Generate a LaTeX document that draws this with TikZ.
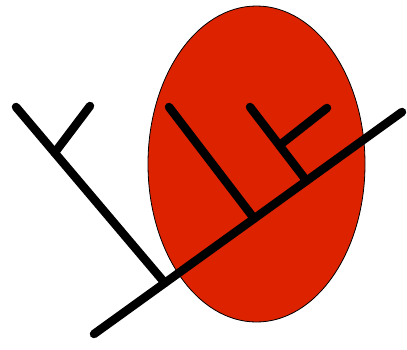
\documentclass[tikz,border=0pt]{standalone}
\usepackage{tikz}
\usetikzlibrary{calc}
\definecolor{eggred}{HTML}{DD2200}

\begin{document}
\begin{tikzpicture}[x=1pt,y=-1pt,
  branch/.style={line width=8.5pt,line cap=round,black},
  egg/.style={draw=black,line width=0.8pt,fill=eggred}]
  \useasboundingbox (0,0) rectangle (407,349);
  % egg behind the tree
  \draw[egg] (256.5,164) ellipse [x radius=108.5,y radius=158];
  % main stem
  \coordinate (root) at (94,334);
  \coordinate (tipR) at (402,112);
  \coordinate (jA) at ($(root)!0.23!(tipR)$);
  \coordinate (jB) at ($(root)!0.52!(tipR)$);
  \coordinate (jC) at ($(root)!0.69!(tipR)$);
  \draw[branch] (root) -- (tipR);
  % left clade
  \coordinate (tipA) at (16,107);
  \coordinate (jA2) at ($(tipA)!0.26!(jA)$);
  \coordinate (tipA2) at (90,106);
  \draw[branch] (tipA) -- (jA);
  \draw[branch] (jA2) -- (tipA2);
  % clades inside the egg
  \coordinate (tipB) at (169,107);
  \draw[branch] (tipB) -- (jB);
  \coordinate (tipC) at (250,107);
  \coordinate (jC2) at ($(tipC)!0.52!(jC)$);
  \coordinate (tipC2) at (327,108);
  \draw[branch] (tipC) -- (jC);
  \draw[branch] (jC2) -- (tipC2);
\end{tikzpicture}
\end{document}
